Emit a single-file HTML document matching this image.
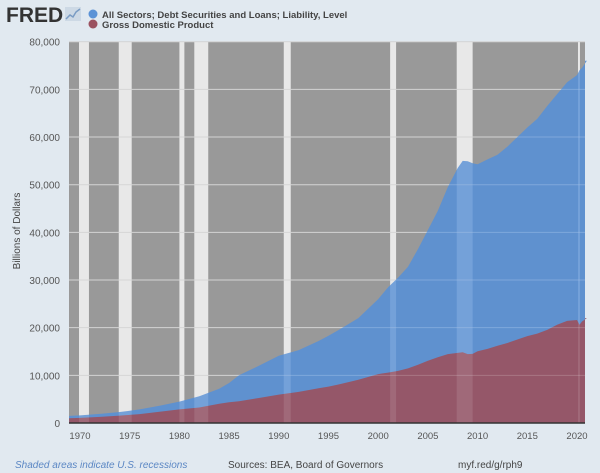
<!DOCTYPE html>
<html><head><meta charset="utf-8"><style>
body{margin:0;background:#e1e9f0;font-family:"Liberation Sans","DejaVu Sans",sans-serif;}
#wrap{position:relative;width:600px;height:473px;overflow:hidden;background:#e1e9f0}
</style></head><body>
<div id="wrap">
<svg id="chart" width="600" height="473">
<text x="6" y="22" font-size="21" font-weight="bold" fill="#333" font-family="Liberation Sans, sans-serif">FRED</text>
<g><rect x="65" y="7" width="16" height="14" fill="#cdd9e5"/><polyline points="66,19 70,15 73,17 76,12 80,9" fill="none" stroke="#7a9cc4" stroke-width="1.5"/></g>
<circle cx="93" cy="14" r="4.5" fill="#5b92d6"/>
<text x="102" y="18" font-size="9.5" font-weight="bold" fill="#444">All Sectors; Debt Securities and Loans; Liability, Level</text>
<circle cx="93" cy="24" r="4.5" fill="#9b5260"/>
<text x="102" y="28" font-size="9.5" font-weight="bold" fill="#444">Gross Domestic Product</text>
<text transform="translate(20,231) rotate(-90)" text-anchor="middle" font-size="10" fill="#444">Billions of Dollars</text>
<g id="plot"></g>
<text x="15" y="468" font-size="10" font-style="italic" fill="#5b87c4">Shaded areas indicate U.S. recessions</text>
<text x="228" y="468" font-size="10" fill="#444">Sources: BEA, Board of Governors</text>
<text x="458" y="468" font-size="10" fill="#444">myf.red/g/rph9</text>
</svg>
</div>
<script>
const years=[1968.9,1970,1972,1974,1975,1976,1978,1980,1982,1984,1985,1986,1988,1990,1992,1994,1995,1996,1998,2000,2001,2002,2003,2004,2005,2006,2007,2008,2008.5,2009,2009.5,2010,2011,2012,2013,2014,2015,2016,2017,2018,2019,2020,2020.25,2020.5,2021];
const debtValues=[1500,1600,1900,2300,2550,2850,3600,4500,5600,7200,8400,10000,12000,14100,15300,17200,18300,19500,22000,26000,28500,30500,32800,36500,40500,44500,49500,53500,55000,54900,54500,54300,55300,56300,58000,60000,62000,63800,66500,69000,71500,73000,74000,74500,76000];
const gdpValues=[1000,1070,1280,1550,1690,1870,2350,2860,3250,4040,4340,4580,5240,5960,6520,7310,7640,8070,9060,10250,10580,10940,11460,12210,13040,13810,14450,14710,14850,14450,14500,15050,15540,16200,16780,17520,18240,18750,19540,20610,21430,21600,20600,21300,22000];
const yTicks=[0,10000,20000,30000,40000,50000,60000,70000,80000];
const xTicks=[1970,1975,1980,1985,1990,1995,2000,2005,2010,2015,2020];
const recStarts=[1969.9,1973.9,1980.0,1981.5,1990.5,2001.2,2007.9,2020.1];
const recEnds=[1970.9,1975.2,1980.5,1982.9,1991.2,2001.8,2009.5,2020.3];
const L=69,R=585,T=41.7,B=423;
const X=y=>80+(y-1970)*9.94;
const Y=v=>B-(v/80000)*(B-T);
const ns="http://www.w3.org/2000/svg";
const g=document.getElementById('plot');
function mk(tag,attrs){const e=document.createElementNS(ns,tag);for(const k in attrs)e.setAttribute(k,attrs[k]);g.appendChild(e);return e;}
let bg=mk('rect',{x:L,y:T,width:R-L,height:B-T,fill:'#999999'});


recStarts.forEach((s,i)=>{const r=mk('rect',{x:X(s),y:T,width:X(recEnds[i])-X(s),height:B-T,fill:'#e6e6e6'});

});
yTicks.forEach(v=>{const l=mk('line',{x1:L,x2:R,y1:Y(v),y2:Y(v),stroke:'#c9c9c9','stroke-width':1});


const t=mk('text',{x:L-9,y:Y(v)+4,'text-anchor':'end','font-size':10,fill:'#555'});t.textContent=v.toLocaleString('en-US');

});
function area(vals,fill,name){let d='M'+X(years[0])+','+B;years.forEach((y,i)=>{d+='L'+X(y).toFixed(1)+','+Y(vals[i]).toFixed(1);});d+='L'+R+','+Y(vals[vals.length-1]).toFixed(1)+'L'+R+','+B+'Z';
const p=mk('path',{d:d,fill:fill,'fill-opacity':0.92});

}
area(debtValues,'#5a90d4','debt-area');
area(gdpValues,'#9a5361','gdp-area');
recStarts.forEach((s,i)=>{const r=mk('rect',{x:X(s),y:T,width:X(recEnds[i])-X(s),height:B-T,fill:'#ffffff','fill-opacity':0.1});

});
yTicks.slice(1).forEach(v=>{const l=mk('line',{x1:L,x2:R,y1:Y(v),y2:Y(v),stroke:'#ffffff','stroke-opacity':0.18});

});
const ax=mk('line',{x1:L,x2:R,y1:B,y2:B,stroke:'#333','stroke-width':1.5});


xTicks.forEach(y=>{const t=mk('text',{x:X(y),y:B+16,'text-anchor':'middle','font-size':9.5,fill:'#555'});t.textContent=y;

});
</script>
</body></html>
